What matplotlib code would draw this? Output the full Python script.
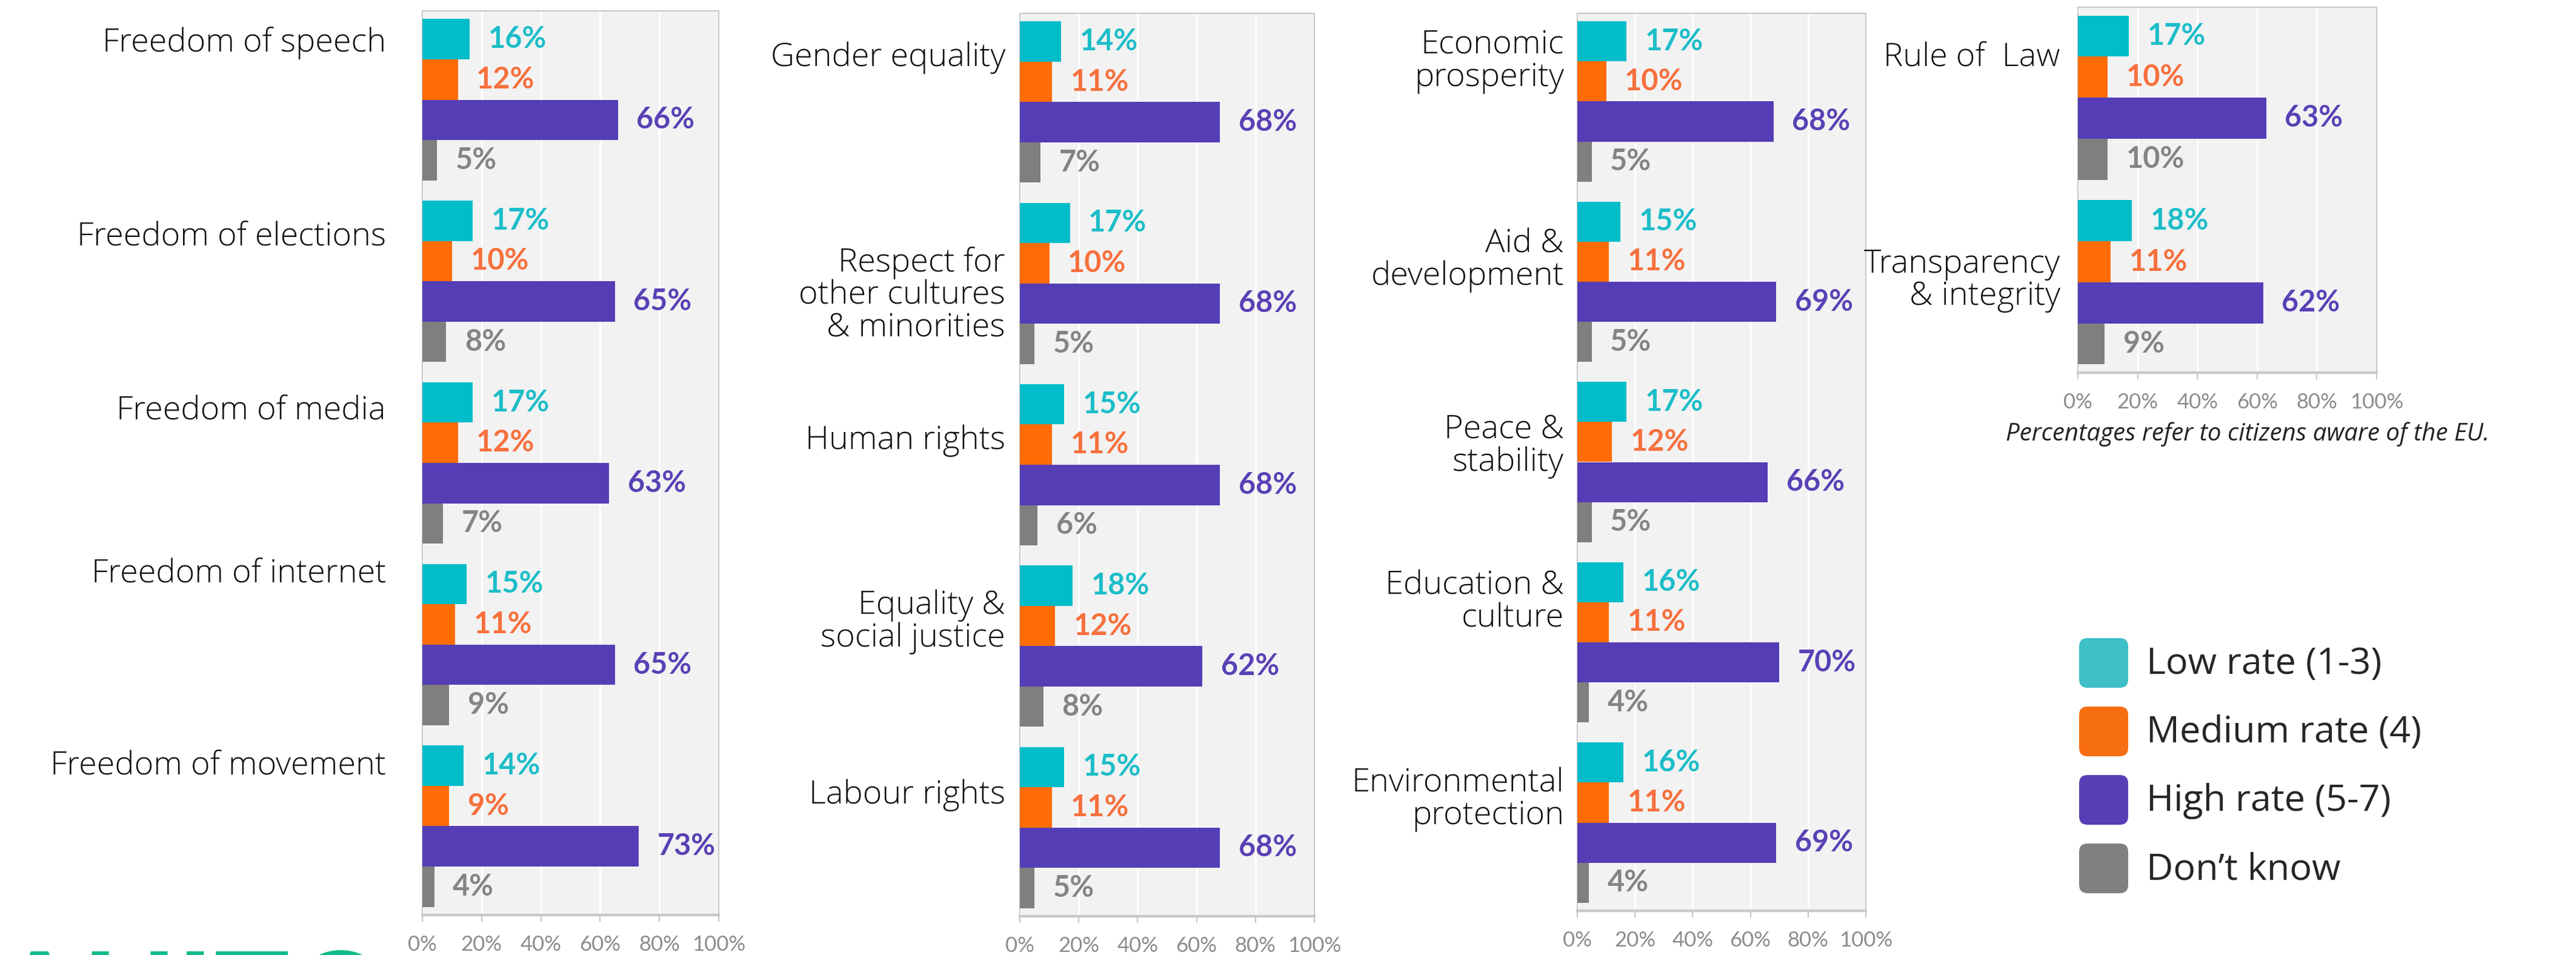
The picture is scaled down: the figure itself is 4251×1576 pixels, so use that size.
import matplotlib
matplotlib.use("Agg")
import matplotlib.pyplot as plt
from matplotlib.patches import FancyBboxPatch

# data (percent)
series_names = ["Low rate (1-3)", "Medium rate (4)", "High rate (5-7)", "Don\u2019t know"]

p1_labels = ["Freedom of speech", "Freedom of elections", "Freedom of media",
             "Freedom of internet", "Freedom of movement"]
p1_low = [16, 17, 17, 15, 14]
p1_med = [12, 10, 12, 11, 9]
p1_high = [66, 65, 63, 65, 73]
p1_dk = [5, 8, 7, 9, 4]

p2_labels = ["Gender equality", "Respect for\nother cultures\n& minorities", "Human rights",
             "Equality &\nsocial justice", "Labour rights"]
p2_low = [14, 17, 15, 18, 15]
p2_med = [11, 10, 11, 12, 11]
p2_high = [68, 68, 68, 62, 68]
p2_dk = [7, 5, 6, 8, 5]

p3_labels = ["Economic\nprosperity", "Aid &\ndevelopment", "Peace &\nstability",
             "Education &\nculture", "Environmental\nprotection"]
p3_low = [17, 15, 17, 16, 16]
p3_med = [10, 11, 12, 11, 11]
p3_high = [68, 69, 66, 70, 69]
p3_dk = [5, 5, 5, 4, 4]

p4_labels = ["Rule of  Law", "Transparency\n& integrity"]
p4_low = [17, 18]
p4_med = [10, 11]
p4_high = [63, 62]
p4_dk = [10, 9]

ticks = [0, 20, 40, 60, 80, 100]
tick_labels = ["0%", "20%", "40%", "60%", "80%", "100%"]

bar_colors = ["#00BDC9", "#FF6C05", "#553DB6", "#7F7F7F"]
text_colors = ["#1CBDC8", "#F7703D", "#5941B5", "#848484"]
legend_colors = ["#3FBFC8", "#F76E12", "#563FB6", "#808080"]

W, H = 4251, 1576
fig = plt.figure(figsize=(W / 100, H / 100), dpi=100)

PITCH = 4.5
M = 0.7

LABEL_FONT = dict(family=["Open Sans", "DejaVu Sans"], weight="light")
VALUE_FONT = dict(family=["Lato", "DejaVu Sans"], weight="bold")
TEXT_FONT = ["Open Sans", "DejaVu Sans"]


def panel(x0, x1, y0, y1, labels, low, med, high, dk, gap, offs):
    ax = fig.add_axes([x0 / W, 1 - y1 / H, (x1 - x0) / W, (y1 - y0) / H])
    n = len(labels)
    ax.set_facecolor("#F2F2F2")
    for k, vals in enumerate([low, med, high, dk]):
        ys = [i * PITCH + k for i in range(n)]
        ax.barh(ys, vals, height=1.0, color=bar_colors[k], zorder=3)
        for y, v in zip(ys, vals):
            ax.annotate(f"{v}%", xy=(v, y), xytext=(22, 0), textcoords="offset points",
                        va="center", ha="left", fontsize=35, color=text_colors[k],
                        zorder=4, **VALUE_FONT)
    for i, lab in enumerate(labels):
        ax.annotate(lab, xy=(0, i * PITCH + offs[i]), xycoords="data",
                    xytext=(-gap * 0.72, 0), textcoords="offset points",
                    ha="right", va="center", multialignment="right",
                    fontsize=39, color="#111111", linespacing=1.0,
                    annotation_clip=False, **LABEL_FONT)
    ax.set_xlim(0, 100)
    ax.set_ylim((n - 1) * PITCH + 3 + M, -M)
    ax.set_yticks([])
    ax.set_xticks(ticks)
    ax.set_xticklabels(tick_labels, fontsize=25, color="#8C8C8C",
                       family=["Lato", "DejaVu Sans"])
    ax.tick_params(axis="x", length=8, width=1.5, color="#C4C4C4", pad=16)
    ax.grid(axis="x", color="white", linewidth=2.2, zorder=1)
    for s in ax.spines.values():
        s.set_color("#C8C8C8")
        s.set_linewidth(1.5)
    ax.spines["bottom"].set_linewidth(3)
    return ax


panel(697, 1186, 18, 1510, p1_labels, p1_low, p1_med, p1_high, p1_dk, 60,
      [0.1, 0.4, 0.2, -0.25, 0.0])
panel(1683, 2169, 22, 1512, p2_labels, p2_low, p2_med, p2_high, p2_dk, 24,
      [0.4, 1.8, 0.9, 0.9, 0.7])
panel(2603, 3079, 22, 1503, p3_labels, p3_low, p3_med, p3_high, p3_dk, 22,
      [0.5, 0.97, 1.1, 0.5, 0.93])
panel(3429, 3922, 12, 615, p4_labels, p4_low, p4_med, p4_high, p4_dk, 29,
      [0.52, 1.45])

# overlay in pixel coords for legend, footnote and the cut-off heading
ov = fig.add_axes([0, 0, 1, 1], zorder=-1)
ov.set_xlim(0, W)
ov.set_ylim(H, 0)
ov.axis("off")

for k, (name, c) in enumerate(zip(series_names, legend_colors)):
    cy = 1094 + k * 113
    ov.add_patch(FancyBboxPatch((3431, cy - 41), 81, 82,
                                boxstyle="round,pad=0,rounding_size=14",
                                facecolor=c, edgecolor="none"))
    ov.text(3542, cy + 2, name, fontsize=44, color="#262626", va="center", ha="left",
            family=TEXT_FONT)

ov.text(3709, 717, "Percentages refer to citizens aware of the EU.", fontsize=29,
        style="italic", color="#222222", ha="center", va="center",
        family=TEXT_FONT)

ov.text(-8, 1566, "AUITO", fontsize=150, weight="bold", color="#10BC8A",
        ha="left", va="top", family=["Lato", "DejaVu Sans"])

fig.savefig("out.png", dpi=100, facecolor="white")
